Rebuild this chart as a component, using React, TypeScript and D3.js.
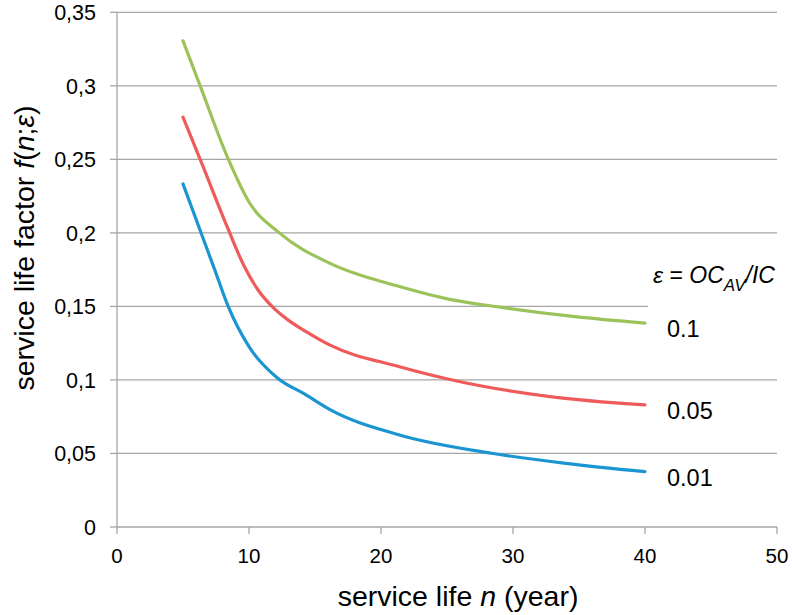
import React from "react";
import * as d3 from "d3";

const yTicks = [0, 0.05, 0.1, 0.15, 0.2, 0.25, 0.3, 0.35];
const yTickLabels = ["0", "0,05", "0,1", "0,15", "0,2", "0,25", "0,3", "0,35"];
const xTicks = [0, 10, 20, 30, 40, 50];
const xTickLabels = ["0", "10", "20", "30", "40", "50"];

const nGreen = [5, 6.3, 8.4, 10, 12.3, 16.1, 21.4, 25.2, 29, 34.7, 40];
const vGreen = [0.3306, 0.3, 0.2508, 0.221, 0.2, 0.1794, 0.1635, 0.1548, 0.1495, 0.143, 0.1386];

const nRed = [5, 6.5, 8.4, 9.6, 10.7, 11.8, 13, 14.2, 16.1, 21.4, 26, 32.8, 40];
const vRed = [0.2787, 0.2455, 0.203, 0.178, 0.161, 0.1495, 0.1405, 0.1335, 0.1238, 0.109, 0.0988, 0.0887, 0.083];

const nBlue = [5, 6.4, 7.4, 8.4, 10, 12.2, 14.2, 16.1, 21.4, 28.5, 34, 40];
const vBlue = [0.2333, 0.1992, 0.175, 0.1505, 0.1226, 0.101, 0.0905, 0.080, 0.0626, 0.05, 0.0433, 0.0376];

const seriesNames = ["0.1", "0.05", "0.01"];
const seriesColors = ["#9bc35a", "#ef5a5a", "#1b95d2"];

export default function App() {
  const W = 792, H = 615;
  const x = d3.scaleLinear().domain([0, 50]).range([117, 777]);
  const y = d3.scaleLinear().domain([0, 0.35]).range([527, 12.3]);
  const line = d3.line<[number, number]>().x(d => x(d[0])).y(d => y(d[1])).curve(d3.curveMonotoneX);
  const series = [
    { n: nGreen, v: vGreen },
    { n: nRed, v: vRed },
    { n: nBlue, v: vBlue },
  ];
  const grid = "#a6a6a6";
  const font = "'Liberation Sans', Arial, sans-serif";
  return (
    <svg width={W} height={H} style={{ position: "absolute", left: 0, top: 0, background: "#fff" }} fontFamily={font}>
      <rect x={0} y={0} width={W} height={H} fill="#fff" />
      {yTicks.filter(t => t > 0).map(t => (
        <line key={"g" + t} x1={x(0)} x2={x(50)} y1={y(t)} y2={y(t)} stroke={grid} strokeWidth={1.3} />
      ))}
      {/* legend title box */}
      <rect x={648} y={258} width={144} height={56} fill="#fff" />
      {/* axes */}
      <line x1={x(0)} x2={x(0)} y1={y(0.35)} y2={y(0)} stroke={grid} strokeWidth={1.3} />
      <line x1={x(0)} x2={x(50)} y1={y(0)} y2={y(0)} stroke={grid} strokeWidth={1.3} />
      {yTicks.map(t => (
        <line key={"yt" + t} x1={x(0) - 7} x2={x(0)} y1={y(t)} y2={y(t)} stroke={grid} strokeWidth={1.3} />
      ))}
      {xTicks.map(t => (
        <line key={"xt" + t} x1={x(t)} x2={x(t)} y1={y(0)} y2={y(0) + 7} stroke={grid} strokeWidth={1.3} />
      ))}
      {yTicks.map((t, i) => (
        <text key={"yl" + t} x={96} y={y(t)} dy="0.37em" textAnchor="end" fontSize={21.5} fill="#000">{yTickLabels[i]}</text>
      ))}
      {xTicks.map((t, i) => (
        <text key={"xl" + t} x={x(t)} y={563} textAnchor="middle" fontSize={20.5} fill="#000">{xTickLabels[i]}</text>
      ))}
      {series.map((s, i) => (
        <path key={"s" + i} d={line(s.n.map((n, j) => [n, s.v[j]] as [number, number])) || ""} fill="none" stroke={seriesColors[i]} strokeWidth={3.2} strokeLinecap="round" />
      ))}
      {series.map((s, i) => (
        <text key={"sl" + i} x={x(40) + 22} y={y(s.v[s.v.length - 1]) + 14} fontSize={23.5} fill="#000">{seriesNames[i]}</text>
      ))}
      <text x={653} y={283} fontSize={23} fill="#000">
        <tspan fontStyle="italic">ε</tspan>
        <tspan> = </tspan>
        <tspan fontStyle="italic">OC</tspan>
        <tspan fontStyle="italic" fontSize={17} dy={8}>AV</tspan>
        <tspan fontStyle="italic" dy={-8}>/IC</tspan>
      </text>
      <text x={458} y={606} textAnchor="middle" fontSize={28.5} fill="#000">
        service life <tspan fontStyle="italic">n</tspan> (year)
      </text>
      <text transform={`translate(34,${248}) rotate(-90)`} textAnchor="middle" fontSize={28.5} fill="#000">
        service life factor <tspan fontStyle="italic">f</tspan>(<tspan fontStyle="italic">n</tspan>;<tspan fontStyle="italic">ε</tspan>)
      </text>
    </svg>
  );
}
